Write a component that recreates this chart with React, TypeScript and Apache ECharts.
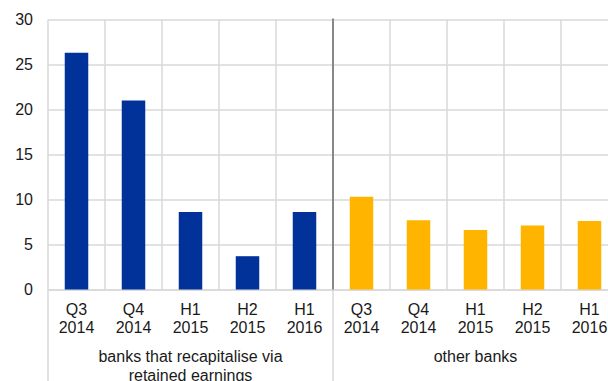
import React, { useEffect, useRef } from "react";
import * as echarts from "echarts";

const categories = [
  "Q3\n2014", "Q4\n2014", "H1\n2015", "H2\n2015", "H1\n2016",
  "Q3\n2014", "Q4\n2014", "H1\n2015", "H2\n2015", "H1\n2016",
];
const groupLabels = ["banks that recapitalise via\nretained earnings", "other banks"];
const retainedEarnings = [26.3, 21.0, 8.6, 3.7, 8.6];
const otherBanks = [10.3, 7.7, 6.6, 7.1, 7.6];
const groupColors = ["#003299", "#FFB400"];
const yTicks = { min: 0, max: 30, interval: 5 };

const FONT = "Liberation Sans, Arial, sans-serif";
const TEXT = "#1a1a1a";
const GRID = "#d9d9d9";

export default function App() {
  const ref = useRef<HTMLDivElement>(null);
  useEffect(() => {
    if (!ref.current) return;
    const chart = echarts.init(ref.current, undefined, { renderer: "svg" });
    const barData = [
      ...retainedEarnings.map((v) => ({ value: v, itemStyle: { color: groupColors[0] } })),
      ...otherBanks.map((v) => ({ value: v, itemStyle: { color: groupColors[1] } })),
    ];
    chart.setOption({
      animation: false,
      textStyle: { fontFamily: FONT },
      grid: {
        left: 48,
        top: 19.5,
        width: 570,
        height: 270,
        containLabel: false,
        outerBoundsMode: "none",
      },
      xAxis: [
        {
          type: "category",
          data: categories,
          axisLine: { show: true, lineStyle: { color: GRID, width: 1.5 } },
          axisTick: { show: false },
          splitLine: { show: true, interval: 0, lineStyle: { color: GRID, width: 1.5 } },
          axisLabel: {
            interval: 0,
            fontSize: 16,
            lineHeight: 18,
            color: TEXT,
            margin: 10.5,
            fontFamily: FONT,
          },
        },
        {
          type: "category",
          data: groupLabels,
          position: "bottom",
          axisLine: { show: false },
          axisTick: { show: true, interval: 0, length: 95, lineStyle: { color: GRID, width: 1.5 } },
          splitLine: { show: false },
          axisLabel: {
            interval: 0,
            fontSize: 16,
            lineHeight: 19,
            color: TEXT,
            margin: 57,
            fontFamily: FONT,
          },
        },
      ],
      yAxis: {
        type: "value",
        min: yTicks.min,
        max: yTicks.max,
        interval: yTicks.interval,
        axisLine: { show: false },
        axisTick: { show: false },
        splitLine: { show: true, lineStyle: { color: GRID, width: 1.5 } },
        axisLabel: { fontSize: 16, color: TEXT, margin: 15, fontFamily: FONT },
      },
      series: [
        {
          type: "bar",
          xAxisIndex: 0,
          data: barData,
          barWidth: 23.5,
        },
      ],
    });
    const xa = chart.convertToPixel({ xAxisIndex: 0 }, categories.length / 2 - 1) as number;
    const xb = chart.convertToPixel({ xAxisIndex: 0 }, categories.length / 2) as number;
    const sepX = (xa + xb) / 2;
    const yTop = chart.convertToPixel({ yAxisIndex: 0 }, yTicks.max) as number;
    const yBot = chart.convertToPixel({ yAxisIndex: 0 }, yTicks.min) as number;
    chart.setOption({
      graphic: [
        {
          type: "line",
          z: 10,
          shape: { x1: sepX, y1: yTop - 1, x2: sepX, y2: yBot },
          style: { stroke: "#888888", lineWidth: 2 },
        },
      ],
    });
    return () => chart.dispose();
  }, []);
  return (
    <div
      ref={ref}
      style={{ position: "fixed", left: 0, top: 0, width: 608, height: 381, background: "#fff" }}
    />
  );
}
